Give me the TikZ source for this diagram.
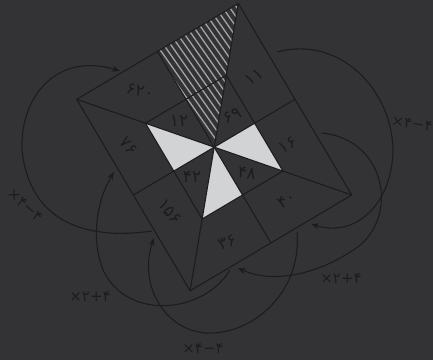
\documentclass[tikz,border=0pt]{standalone}
\usepackage{fontspec}
\newfontfamily\fa{DejaVu Sans}
\usetikzlibrary{arrows.meta,calc}
\definecolor{bg}{HTML}{333335}
\definecolor{ink}{HTML}{1E1B1D}
\definecolor{tri}{HTML}{D2D3D5}
\definecolor{hatchc}{HTML}{A3A3A6}
\begin{document}
\begin{tikzpicture}[x=1pt,y=-1pt,
  ln/.style={draw=ink,line width=1.1pt,line join=round},
  cv/.style={draw=ink,line width=1.1pt,-{Stealth[length=8pt,width=6pt]}},
  num/.style={text=ink,font=\fa\fontsize{17}{17}\selectfont,inner sep=0pt},
  lab/.style={text=ink,font=\fa\fontsize{15}{15}\selectfont,inner sep=0pt}]
\fill[bg] (0,0) rectangle (433,360);
\useasboundingbox (0,0) rectangle (433,360);
% outer corners
\coordinate (T) at (238.3,3.5);
\coordinate (L) at (76.7,99.3);
\coordinate (R) at (351.7,195);
\coordinate (B) at (190.1,290.8);
\coordinate (C) at ($(T)!0.5!(B)$);
% outer midpoints
\coordinate (MTL) at ($(T)!0.5!(L)$);
\coordinate (MTR) at ($(T)!0.5!(R)$);
\coordinate (MRB) at ($(R)!0.5!(B)$);
\coordinate (MBL) at ($(B)!0.5!(L)$);
% inner corners and midpoints
\coordinate (iT) at ($(C)!0.5!(T)$);
\coordinate (iL) at ($(C)!0.5!(L)$);
\coordinate (iR) at ($(C)!0.5!(R)$);
\coordinate (iB) at ($(C)!0.5!(B)$);
\coordinate (iTL) at ($(C)!0.5!(MTL)$);
\coordinate (iTR) at ($(C)!0.5!(MTR)$);
\coordinate (iRB) at ($(C)!0.5!(MRB)$);
\coordinate (iBL) at ($(C)!0.5!(MBL)$);
% white triangles
\fill[tri] (iL) -- (iBL) -- (C) -- cycle;
\fill[tri] (iTR) -- (iR) -- (C) -- cycle;
\fill[tri] (iB) -- (iRB) -- (C) -- cycle;
% hatched triangle
\begin{scope}
\clip (MTL) -- (T) -- (C) -- cycle;
\foreach \k in {-35,...,35}
  \draw[hatchc,line width=1.3pt] ($(C)+(\k*4.75,-\k*3.33)+(-114.8,-163.8)$) -- ++(229.6,327.6);
\end{scope}
% grid lines
\draw[ln] (T) -- (R) -- (B) -- (L) -- cycle;
\draw[ln] (iT) -- (iR) -- (iB) -- (iL) -- cycle;
\foreach \p in {T,L,R,B,MTL,MTR,MRB,MBL} \draw[ln] (C) -- (\p);
% numbers
\node[num,rotate=-12] (n620) at (140,91) {۶۲۰};
\node[num,rotate=35] (n11) at (254,77) {۱۱};
\node[num,rotate=0] (n12) at (179,121) {۱۲};
\node[num,rotate=25] (n69) at (232,116) {۶۹};
\node[num,rotate=-50] (n76) at (129,146) {۷۶};
\node[num,rotate=30] (n16) at (288,145) {۱۶};
\node[num,rotate=-8] (n48) at (247,173) {۴۸};
\node[num,rotate=0] (n42) at (192,177) {۴۲};
\node[num,rotate=30] (n40) at (287,200) {۴۰};
\node[num,rotate=-50] (n156) at (170,212) {۱۵۶};
\node[num,rotate=22] (n36) at (227,242) {۳۶};
% curve end points
\coordinate (s1) at (152,231);
\coordinate (e1) at (120,71);
\coordinate (s2) at (277,52);
\coordinate (e2) at (311,224);
\coordinate (s3) at (322,133);
\coordinate (e3) at (238,268);
\coordinate (s4) at (297,232);
\coordinate (e4) at (154,238);
\coordinate (s5) at (230,270);
\coordinate (e5) at (114,172);
\draw[cv] (s1) .. controls (90,240) and (30,225) .. (22,150) .. controls (20,95) and (58,52) .. (e1);
\draw[cv] (s2) .. controls (340,35) and (392,90) .. (393,150) .. controls (392,205) and (355,238) .. (e2);
\draw[cv] (s3) .. controls (390,140) and (400,225) .. (350,252) .. controls (320,272) and (275,285) .. (e3);
\draw[cv] (s4) .. controls (302,295) and (250,335) .. (207,333) .. controls (165,331) and (138,285) .. (e4);
\draw[cv] (s5) .. controls (205,312) and (130,322) .. (104,272) .. controls (90,240) and (97,200) .. (e5);
% labels
\node[lab,rotate=-42] (l1) at (25,205) {×۴−۴};
\node[lab,rotate=-8] (l2) at (412,124) {×۴−۴};
\node[lab] (l3) at (203,349) {×۴−۴};
\node[lab] (l4) at (90,297) {×۲+۴};
\node[lab] (l5) at (341,279) {×۲+۴};
\end{tikzpicture}
\end{document}
